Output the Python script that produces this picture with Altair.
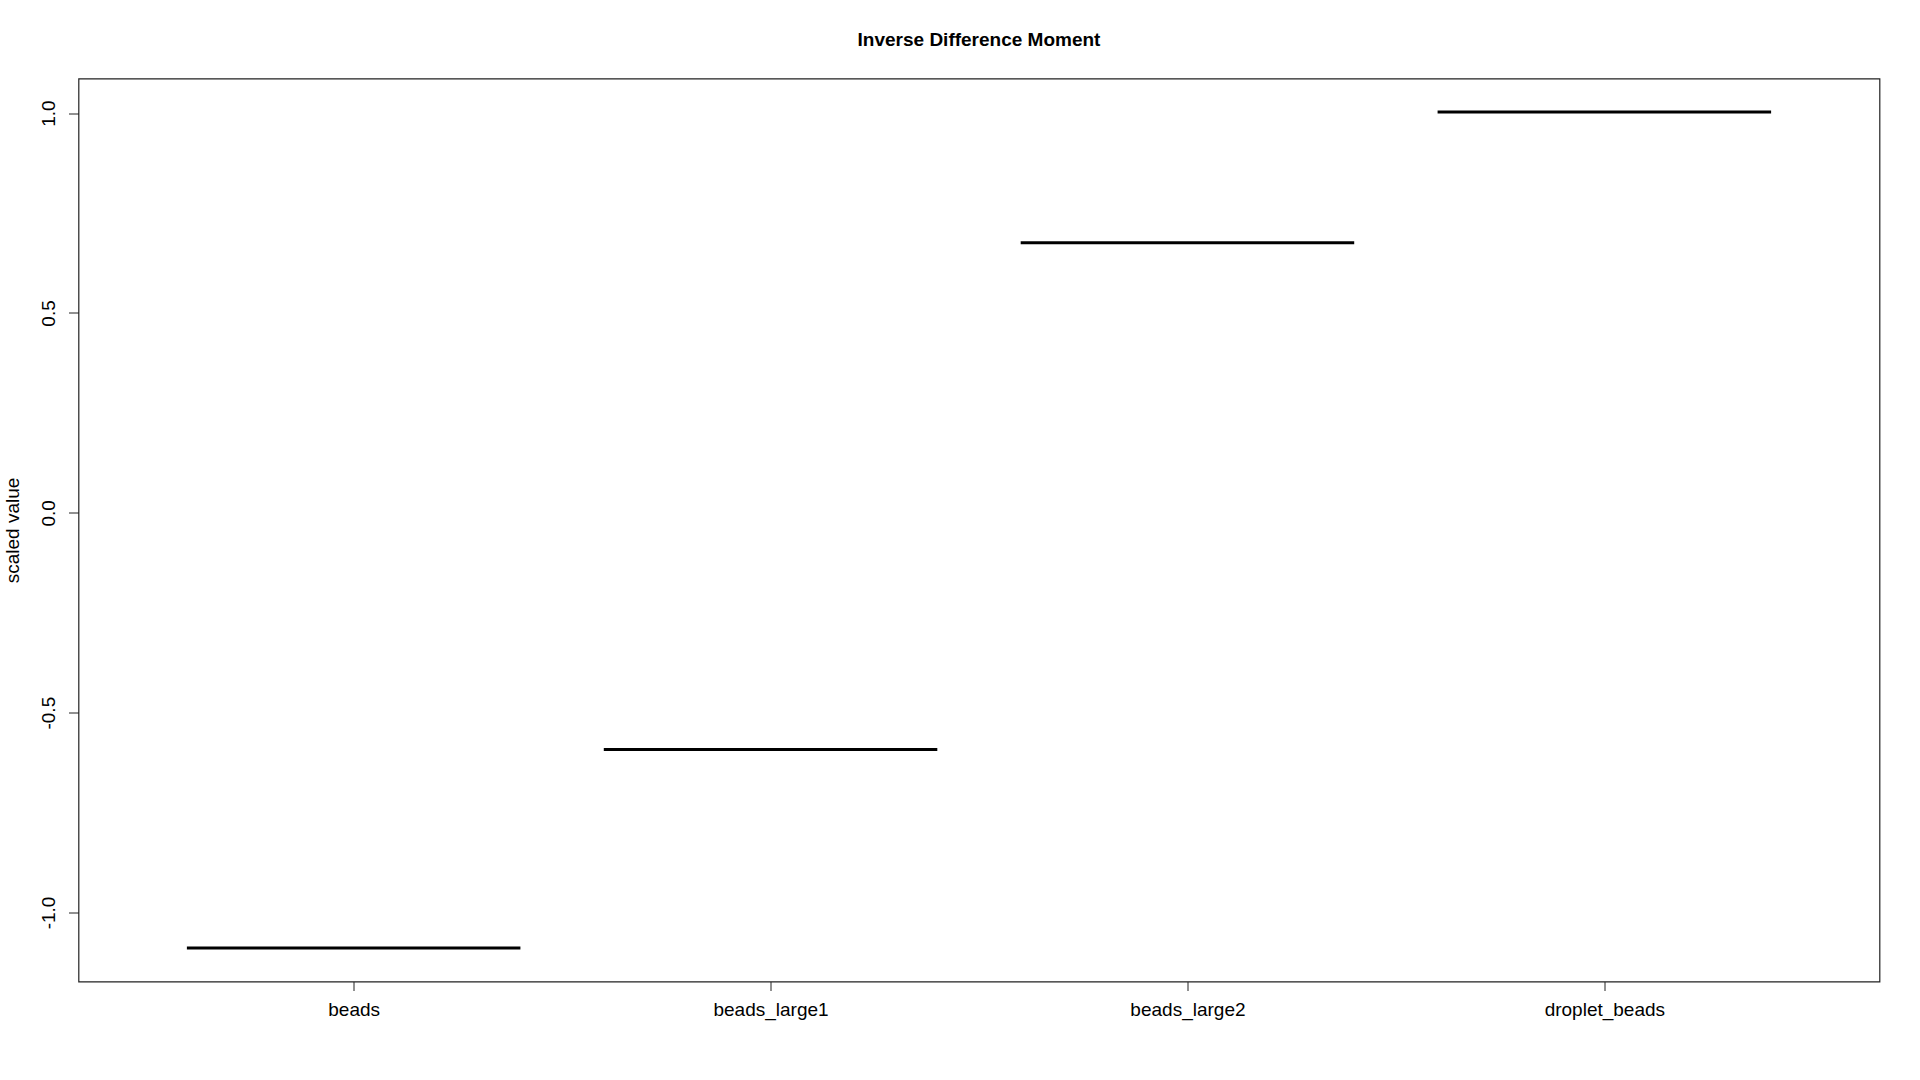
import json
import altair as alt
import pandas as pd

categories = ["beads", "beads_large1", "beads_large2", "droplet_beads"]
positions = [1, 2, 3, 4]
medians = [-1.089, -0.592, 0.676, 1.003]
y_ticks = [-1.0, -0.5, 0.0, 0.5, 1.0]

df = pd.DataFrame({"cat": categories, "pos": positions, "value": medians})

FONT = "Liberation Sans"
label_expr = json.dumps(categories) + "[datum.value - 1]"

x_scale = alt.Scale(domain=[0.34, 4.66], nice=False, zero=False)
y_scale = alt.Scale(domain=[-1.1727, 1.0867], nice=False, zero=False)

chart = (
    alt.Chart(df)
    .transform_calculate(lo="datum.pos - 0.4", hi="datum.pos + 0.4")
    .mark_rule(color="black", strokeWidth=3)
    .encode(
        x=alt.X(
            "lo:Q",
            scale=x_scale,
            axis=alt.Axis(
                values=positions,
                labelExpr=label_expr,
                title=None,
                grid=False,
                domain=False,
                tickSize=9,
                tickColor="#222222",
                tickWidth=1,
                labelFont=FONT,
                labelFontSize=19,
                labelColor="black",
                labelBaseline="alphabetic",
                labelPadding=25,
                labelFlush=False,
                labelOverlap=False,
            ),
        ),
        x2="hi:Q",
        y=alt.Y(
            "value:Q",
            scale=y_scale,
            axis=alt.Axis(
                values=y_ticks,
                labelExpr="replace(format(datum.value, '.1f'), '\u2212', '-')",
                title="scaled value",
                titleFont=FONT,
                titleFontSize=19,
                titleFontWeight="normal",
                titleColor="black",
                titlePadding=17,
                grid=False,
                domain=False,
                tickSize=10,
                tickColor="#222222",
                tickWidth=1,
                labelFont=FONT,
                labelFontSize=19,
                labelColor="black",
                labelAngle=270,
                labelAlign="center",
                labelBaseline="alphabetic",
                labelPadding=14,
                labelFlush=False,
                labelOverlap=False,
            ),
        ),
    )
    .properties(
        width=1801,
        height=903,
        title=alt.TitleParams(
            "Inverse Difference Moment",
            font=FONT,
            fontSize=19,
            fontWeight="bold",
            color="black",
            anchor="middle",
            frame="group",
            baseline="alphabetic",
            offset=14,
        ),
        autosize=alt.AutoSizeParams(type="none"),
        padding={"left": 78.5, "top": 78.5, "right": 40.5, "bottom": 98.5},
    )
    .configure(background="white")
    .configure_view(stroke="#222222", strokeWidth=1.2)
)

chart.save("out.html", embed_options={"renderer": "svg", "actions": False})
